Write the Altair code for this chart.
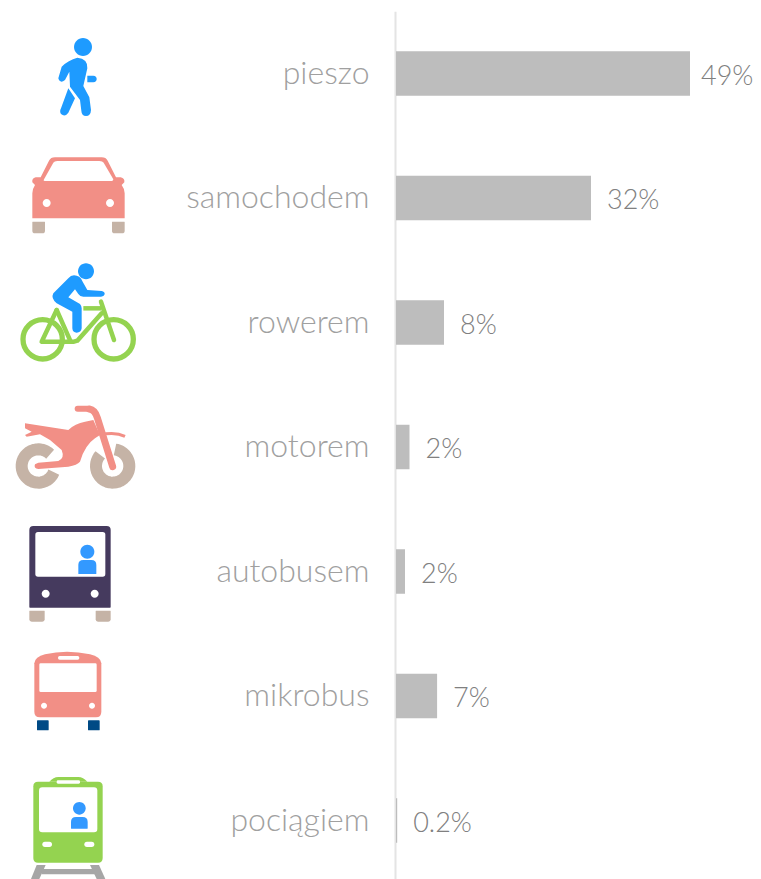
import re
import math
import altair as alt
import pandas as pd

# ---- chart data ----
rows = ["pieszo", "samochodem", "rowerem", "motorem", "autobusem", "mikrobus", "pociągiem"]
bar_values = [49.0, 32.5, 8.0, 2.25, 1.5, 6.85, 0.2]
value_labels = ["49%", "32%", "8%", "2%", "2%", "7%", "0.2%"]

# ---- colours ----
BLUE = "#1e9bff"
PERSON = "#3399ff"
PINK = "#f28f86"
TAN = "#c5b3a6"
GREEN = "#94d350"
DARK = "#453a5e"
NAVY = "#004a85"
RAIL = "#a6a6a6"
WHITE = "#ffffff"

ROW_CENTRES = dict(zip(rows, [73.5, 198, 322.5, 447, 571.5, 696, 820.5]))
PX_PER_PCT = 6.0
PLOT_W, PLOT_H = 357, 871
LEFT = 388


def circle(cx, cy, r):
    k = 0.5523 * r
    return (f"M {cx-r} {cy} C {cx-r} {cy-k} {cx-k} {cy-r} {cx} {cy-r} "
            f"C {cx+k} {cy-r} {cx+r} {cy-k} {cx+r} {cy} "
            f"C {cx+r} {cy+k} {cx+k} {cy+r} {cx} {cy+r} "
            f"C {cx-k} {cy+r} {cx-r} {cy+k} {cx-r} {cy} Z")


def rrect(x0, y0, x1, y1, rt, rb=None):
    rb = rt if rb is None else rb
    return (f"M {x0+rt} {y0} L {x1-rt} {y0} Q {x1} {y0} {x1} {y0+rt} L {x1} {y1-rb} "
            f"Q {x1} {y1} {x1-rb} {y1} L {x0+rb} {y1} Q {x0} {y1} {x0} {y1-rb} "
            f"L {x0} {y0+rt} Q {x0} {y0} {x0+rt} {y0} Z")


def arc_line(cx, cy, r, a0, a1):
    # polyline along a wheel rim; angles are shape geometry, in degrees
    n = 40
    pts = []
    for i in range(n + 1):
        a = math.radians(a0 + (a1 - a0) * i / n)
        pts.append((cx + r * math.cos(a), cy + r * math.sin(a)))
    return "M " + " L ".join(f"{x:.2f} {y:.2f}" for x, y in pts)


def to_local(path, ox, oy, row):
    """zoomed drawing units (x3, origin ox/oy) -> pixels about the row's centre"""
    cy = ROW_CENTRES[row]
    out, is_x = [], True
    for tok in re.findall(r"[MLCQZ]|-?\d+\.?\d*(?:e-?\d+)?", path):
        if tok in "MLCQZ":
            out.append(tok)
            is_x = True
        else:
            v = float(tok)
            out.append(f"{ox + v/3:.2f}" if is_x else f"{oy + v/3 - cy:.2f}")
            is_x = not is_x
    return " ".join(out)


# (row, origin-y of drawing, colour, path, stroke width or None, line cap)
O1, O2, O3 = 20, 395, 640
parts = [
    # walker
    ("pieszo", O1, BLUE, circle(249, 81, 27), None, None),
    ("pieszo", O1, BLUE, "M 232 113 Q 264 116 262 145 L 250 198 L 268 232 L 273 270 Q 272 288 258 288 Q 245 288 244 272 L 240 240 L 210 200 L 208 155 L 195 180 Q 180 192 175 175 L 185 140 Q 205 120 232 113 Z", None, None),
    ("pieszo", O1, BLUE, "M 262 167 L 280 167 Q 290 168 290 177 Q 290 186 280 187 L 262 187 Z", None, None),
    ("pieszo", O1, BLUE, "M 205 205 L 225 235 L 205 278 Q 195 292 183 282 Q 178 275 183 265 Z", None, None),
    # car
    ("samochodem", O1, PINK, "M 97 595 L 97 520 Q 98 505 105 495 L 97 487 Q 95 475 107 472 L 122 472 L 147 422 Q 152 412 165 412 L 305 412 Q 318 412 323 422 L 348 472 L 362 472 Q 375 475 373 487 L 365 495 Q 373 505 374 520 L 374 595 Z", None, None),
    ("samochodem", O1, WHITE, "M 131 480 L 160 428 Q 163 423 172 423 L 298 423 Q 308 423 311 428 L 340 478 Q 340 483 335 483 L 135 483 Q 130 483 131 480 Z", None, None),
    ("samochodem", O1, WHITE, circle(140, 549, 12), None, None),
    ("samochodem", O1, WHITE, circle(330, 549, 12), None, None),
    ("samochodem", O1, TAN, rrect(97, 605, 135, 640, 1, 8), None, None),
    ("samochodem", O1, TAN, rrect(336, 605, 374, 640, 1, 8), None, None),
    # bicycle
    ("rowerem", O1, GREEN, circle(128, 958, 59), 5.3, "round"),
    ("rowerem", O1, GREEN, circle(341, 958, 59), 5.3, "round"),
    ("rowerem", O1, GREEN, "M 170 870 L 125 965 L 222 965 L 232 962 L 305 880", 4.5, "round"),
    ("rowerem", O1, GREEN, "M 170 870 L 212 965", 4.5, "round"),
    ("rowerem", O1, GREEN, "M 303 845 L 342 960", 4.5, "round"),
    ("rowerem", O1, GREEN, "M 250 865 L 305 865", 4.5, "butt"),
    ("rowerem", O1, BLUE, circle(258, 754, 24), None, None),
    ("rowerem", O1, BLUE, "M 222 766 Q 240 766 248 785 L 262 810 L 305 813 Q 315 815 314 823 Q 312 830 303 830 L 250 830 Q 240 830 235 822 L 225 808 L 205 832 L 240 852 Q 245 858 245 865 L 245 925 Q 243 938 230 938 Q 218 938 217 925 L 217 875 L 170 850 Q 152 835 160 820 L 205 775 Q 212 766 222 766 Z", None, None),
    # motorbike
    ("motorem", O2, TAN, arc_line(115, 213, 50, 22, 315), 12, "butt"),
    ("motorem", O2, TAN, arc_line(338, 213, 50, -82, 222), 12, "butt"),
    ("motorem", O2, PINK, "M 75 85 L 205 105 Q 225 85 255 80 L 280 75 L 300 120 L 285 130 Q 255 150 240 200 Q 232 210 205 215 L 115 222 Q 100 220 105 208 L 115 203 L 175 198 Q 195 190 185 165 L 150 135 L 120 118 L 80 125 L 75 120 L 95 110 L 75 100 Z", None, None),
    ("motorem", O2, PINK, "M 268 42 Q 285 45 292 68 L 338 215", 7, "round"),
    ("motorem", O2, PINK, "M 233 41 L 262 41", 6, "round"),
    ("motorem", O2, PINK, "M 300 120 Q 345 110 375 124", 3, "butt"),
    # bus
    ("autobusem", O2, DARK, rrect(88, 393, 332, 638, 12, 2), None, None),
    ("autobusem", O2, WHITE, rrect(106, 411, 316, 545, 8), None, None),
    ("autobusem", O2, PERSON, circle(262, 470, 21), None, None),
    ("autobusem", O2, PERSON, rrect(235, 495, 289, 537, 15, 1), None, None),
    ("autobusem", O2, WHITE, circle(137, 596, 12), None, None),
    ("autobusem", O2, WHITE, circle(284, 596, 12), None, None),
    ("autobusem", O2, TAN, rrect(88, 647, 134, 680, 1, 7), None, None),
    ("autobusem", O2, TAN, rrect(287, 647, 332, 680, 1, 7), None, None),
    # minibus
    ("mikrobus", O3, PINK, "M 103 70 Q 105 50 135 43 Q 200 28 270 43 Q 302 50 304 70 L 304 215 Q 304 232 288 232 L 120 232 Q 103 232 103 215 Z", None, None),
    ("mikrobus", O3, WHITE, rrect(118, 70, 290, 156, 4), None, None),
    ("mikrobus", O3, WHITE, rrect(174, 48, 238, 59, 5), None, None),
    ("mikrobus", O3, WHITE, circle(132, 197, 9), None, None),
    ("mikrobus", O3, WHITE, circle(276, 197, 9), None, None),
    ("mikrobus", O3, NAVY, rrect(111, 241, 146, 271, 2), None, None),
    ("mikrobus", O3, NAVY, rrect(264, 241, 299, 271, 2), None, None),
    # train
    ("pociągiem", O3, RAIL, "M 110 675 L 137 675 L 118 717 L 93 717 Z", None, None),
    ("pociągiem", O3, RAIL, "M 270 675 L 297 675 L 316 717 L 290 717 Z", None, None),
    ("pociągiem", O3, RAIL, rrect(125, 687, 285, 703, 0), None, None),
    ("pociągiem", O3, GREEN, rrect(100, 425, 308, 668, 14), None, None),
    ("pociągiem", O3, GREEN, "M 148 425 Q 160 411 175 411 L 235 411 Q 250 411 262 425 Z", None, None),
    ("pociągiem", O3, WHITE, rrect(170, 421, 240, 431, 4), None, None),
    ("pociągiem", O3, WHITE, rrect(117, 442, 292, 577, 10), None, None),
    ("pociągiem", O3, PERSON, circle(238, 505, 19), None, None),
    ("pociągiem", O3, PERSON, rrect(213, 531, 263, 566, 15, 1), None, None),
    ("pociągiem", O3, WHITE, rrect(127, 605, 156, 621, 8), None, None),
    ("pociągiem", O3, WHITE, rrect(253, 605, 283, 621, 8), None, None),
]

df = pd.DataFrame({"row": rows, "value": bar_values, "label": value_labels})

x_scale = alt.Scale(domain=[0, PLOT_W / PX_PER_PCT], range=[0, PLOT_W], nice=False, zero=False)
y_scale = alt.Scale(domain=rows, range=[3.25, 874.75], paddingInner=0, paddingOuter=0)
y_axis = alt.Axis(
    title=None, ticks=False, grid=False, offset=1, domainColor="#e4e4e4", domainWidth=2,
    labelFont="Lato", labelFontSize=32, labelFontWeight=300, labelColor="#a0a0a0",
    labelPadding=26, labelLimit=300,
)
y_enc = alt.Y("row:N", scale=y_scale, sort=rows, axis=y_axis)

bars = alt.Chart(df).mark_bar(size=44.5, color="#bdbdbd").encode(
    x=alt.X("value:Q", scale=x_scale, axis=None),
    y=y_enc,
)


def value_text(frame, gap):
    return alt.Chart(frame).mark_text(
        align="left", baseline="middle", dx=gap, dy=3, font="Lato", fontSize=27, fontWeight=300, color="#808080"
    ).encode(
        x=alt.X("value:Q", scale=x_scale, axis=None),
        y=y_enc,
        text="label:N",
    )


# the longest bar's label sits a little closer so that it stays inside the page
layers = [bars, value_text(df.iloc[[0]], 11), value_text(df.iloc[1:], 16)]
for row, oy, colour, path, stroke, cap in parts:
    shape = to_local(path, 0, oy, row)
    base = alt.Chart(pd.DataFrame({"row": [row]}))
    if stroke is None:
        mark = base.mark_point(shape=shape, size=4, filled=True, fill=colour, opacity=1, strokeWidth=0)
    else:
        mark = base.mark_point(
            shape=shape, size=4, filled=False, fill="transparent", stroke=colour, strokeWidth=stroke,
            strokeCap=cap, strokeJoin="round", opacity=1,
        )
    layers.append(mark.encode(x=alt.value(-(LEFT + 8)), y=y_enc))

chart = alt.layer(*layers).properties(
    width=PLOT_W,
    height=PLOT_H,
    padding={"left": LEFT, "top": 0, "right": 0, "bottom": 0},
    autosize=alt.AutoSizeParams(type="none"),
).configure_view(stroke=None)

chart.save("out.html", embed_options={"renderer": "svg", "actions": False})
